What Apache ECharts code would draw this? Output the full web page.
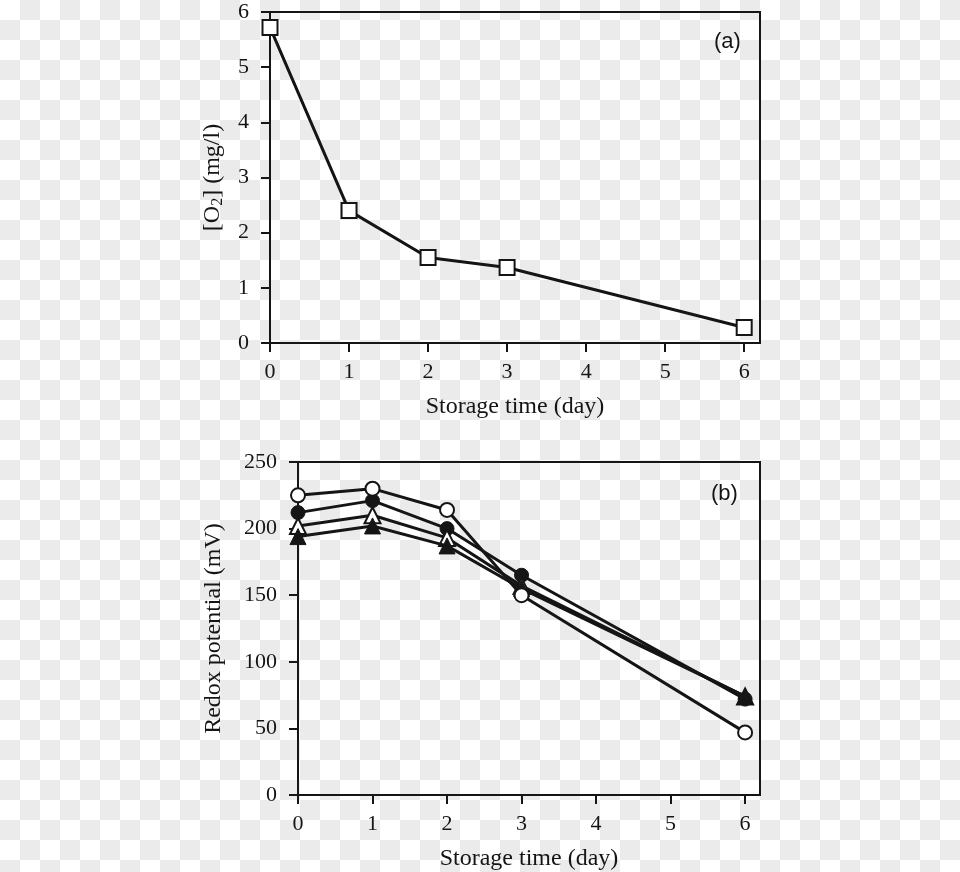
<!DOCTYPE html>
<html>
<head>
<meta charset="utf-8">
<script src="https://cdn.jsdelivr.net/npm/echarts@6/dist/echarts.min.js"></script>
<style>
  html, body { margin: 0; padding: 0; }
  body {
    width: 960px; height: 872px;
    background: repeating-conic-gradient(#ebebeb 0 25%, #ffffff 0 50%) 0 0 / 40px 40px;
  }
  #chart { width: 960px; height: 872px; }
</style>
</head>
<body>
<div id="chart"></div>
<script>
// ---- data ----
const days = [0, 1, 2, 3, 6];
const xTicks = [0, 1, 2, 3, 4, 5, 6];
const o2 = [5.72, 2.4, 1.55, 1.37, 0.28];
const redoxOpenCircle = [225, 230, 214, 150, 47];
const redoxFilledCircle = [212, 221, 200, 165, 72];
const redoxOpenTriangle = [202, 210, 193, 157, 74];
const redoxFilledTriangle = [194, 202, 187, 155, 74];

const pairs = (ys) => days.map((d, i) => [d, ys[i]]);

const serif = '"Liberation Serif", "Times New Roman", serif';
const black = '#151515';

function xAxisCfg(gridIndex) {
  return {
    type: 'value', gridIndex, min: 0, max: 6.2,
    name: 'Storage time (day)', nameLocation: 'middle', nameGap: 52,
    nameTextStyle: { fontFamily: serif, fontSize: 24, color: black },
    axisLine: { show: true, onZero: false, lineStyle: { color: black, width: 2 } },
    axisTick: { show: true, inside: false, length: 9, customValues: xTicks, lineStyle: { color: black, width: 2 } },
    axisLabel: { customValues: xTicks, margin: 18, fontFamily: serif, fontSize: 22, color: black },
    splitLine: { show: false }
  };
}
function yAxisCfg(gridIndex, max, interval, name, gap, rich) {
  return {
    type: 'value', gridIndex, min: 0, max, interval,
    name, nameLocation: 'middle', nameGap: gap,
    nameTextStyle: { fontFamily: serif, fontSize: 24, color: black, rich },
    axisLine: { show: true, lineStyle: { color: black, width: 2 } },
    axisTick: { show: true, inside: false, length: 9, lineStyle: { color: black, width: 2 } },
    axisLabel: { margin: 21, fontFamily: serif, fontSize: 22, color: black },
    splitLine: { show: false }
  };
}

const chart = echarts.init(document.getElementById('chart'), null, { renderer: 'canvas' });
chart.setOption({
  backgroundColor: 'transparent',
  animation: false,
  grid: [
    { left: 270, top: 12, width: 490, height: 331, show: true, borderColor: black, borderWidth: 2, backgroundColor: 'transparent' },
    { left: 298, top: 462, width: 462, height: 335, show: true, borderColor: black, borderWidth: 2, backgroundColor: 'transparent' }
  ],
  xAxis: [xAxisCfg(0), xAxisCfg(1)],
  yAxis: [
    yAxisCfg(0, 6, 1, '[O{sub|2}] (mg/l)', 44, {
      sub: { fontFamily: serif, fontSize: 16, color: black, verticalAlign: 'bottom', padding: [10, 0, 0, 0] }
    }),
    yAxisCfg(1, 250, 50, 'Redox potential (mV)', 72)
  ],
  graphic: [
    { type: 'text', left: 714, top: 31, style: { text: '(a)', font: '22px "Liberation Sans", Arial, sans-serif', fill: black } },
    { type: 'text', left: 711, top: 483, style: { text: '(b)', font: '22px "Liberation Sans", Arial, sans-serif', fill: black } }
  ],
  series: [
    {
      type: 'line', xAxisIndex: 0, yAxisIndex: 0, data: pairs(o2),
      symbol: 'rect', symbolSize: 15,
      lineStyle: { color: black, width: 3 },
      itemStyle: { color: '#ffffff', borderColor: black, borderWidth: 2 }
    },
    {
      type: 'line', xAxisIndex: 1, yAxisIndex: 1, data: pairs(redoxFilledCircle), z: 2,
      symbol: 'circle', symbolSize: 14,
      lineStyle: { color: black, width: 3 },
      itemStyle: { color: black, borderColor: black, borderWidth: 1 }
    },
    {
      type: 'line', xAxisIndex: 1, yAxisIndex: 1, data: pairs(redoxOpenTriangle), z: 3,
      symbol: 'triangle', symbolSize: 16,
      lineStyle: { color: black, width: 3 },
      itemStyle: { color: '#ffffff', borderColor: black, borderWidth: 2 }
    },
    {
      type: 'line', xAxisIndex: 1, yAxisIndex: 1, data: pairs(redoxFilledTriangle), z: 4,
      symbol: 'triangle', symbolSize: 16,
      lineStyle: { color: black, width: 3 },
      itemStyle: { color: black, borderColor: black, borderWidth: 1 }
    },
    {
      type: 'line', xAxisIndex: 1, yAxisIndex: 1, data: pairs(redoxOpenCircle), z: 5,
      symbol: 'circle', symbolSize: 14,
      lineStyle: { color: black, width: 3 },
      itemStyle: { color: '#ffffff', borderColor: black, borderWidth: 2 }
    }
  ]
});
</script>
</body>
</html>
